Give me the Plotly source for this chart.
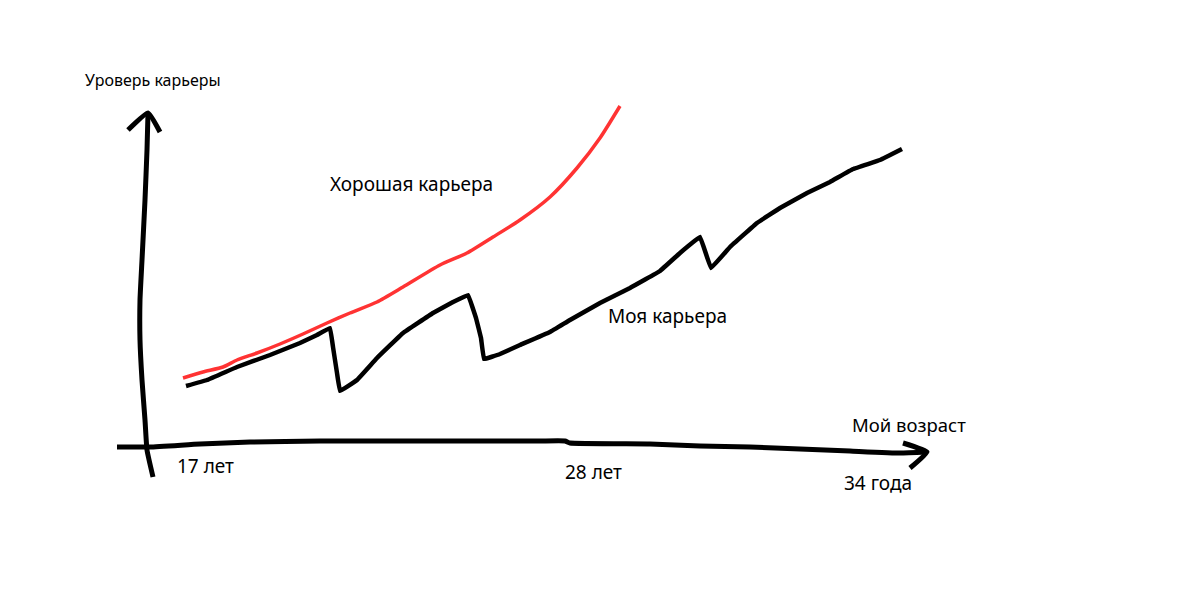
import plotly.graph_objects as go

# Hand-drawn sketch: coordinates (canvas units, y downward)
red_x = [183, 203, 223, 237, 257, 280, 303, 327, 350, 377, 403, 440, 467, 493, 520, 550, 577, 600, 620]
red_y = [378, 372, 367, 360, 353, 344, 334, 323, 313, 302, 287, 265, 253, 237, 220, 197, 168, 138, 106]

blk_x = [186, 207, 237, 270, 300, 317, 330, 333, 337, 340, 357, 377, 403, 433, 453, 468, 476, 481, 484,
         500, 520, 550, 570, 600, 630, 660, 680, 700, 711, 730, 757, 780, 807, 830, 853, 880, 902]
blk_y = [386, 380, 367, 355, 343, 335, 328, 347, 373, 391, 380, 358, 333, 313, 302, 295, 318, 338, 359,
         354, 345, 332, 320, 303, 288, 271, 253, 237, 268, 247, 223, 208, 193, 182, 169, 160, 149]

yax_x = [153, 147, 145, 142, 140, 140, 142, 145, 147, 148]
yax_y = [477, 450, 420, 380, 340, 300, 260, 200, 150, 113]
yarr_x = [128, 148, 160]
yarr_y = [130, 113, 132]

xax_x = [117, 150, 200, 250, 320, 400, 480, 540, 565, 570, 650, 700, 750, 800, 850, 900, 927]
xax_y = [447, 447, 444, 442, 441, 441, 441, 441, 441, 443, 444, 446, 447, 449, 451, 453, 452]
xarr_x = [903, 927, 910]
xarr_y = [443, 452, 468]

labels = ["Уроверь карьеры", "Хорошая карьера", "Моя карьера", "Мой возраст", "17 лет", "28 лет", "34 года"]
label_x = [83, 328, 606, 850, 175, 563, 842]
label_y = [80, 184, 316, 424, 466, 472, 483]
label_size = [16, 19, 19, 18.5, 19, 19, 19]

fig = go.Figure()
for xs, ys in [(yax_x, yax_y), (yarr_x, yarr_y), (xax_x, xax_y), (xarr_x, xarr_y)]:
    fig.add_trace(go.Scatter(x=xs, y=ys, mode="lines", line=dict(color="black", width=5, shape="spline", smoothing=0.4),
                             hoverinfo="skip", showlegend=False))
fig.add_trace(go.Scatter(x=red_x, y=red_y, mode="lines", line=dict(color="#ff3333", width=3.5, shape="spline", smoothing=0.6),
                         showlegend=False))
fig.add_trace(go.Scatter(x=blk_x, y=blk_y, mode="lines", line=dict(color="black", width=4.5, shape="spline", smoothing=0.15),
                         showlegend=False))

for t, x, y, s in zip(labels, label_x, label_y, label_size):
    fig.add_annotation(x=x, y=y, text=t, showarrow=False, xanchor="left", yanchor="middle",
                       font=dict(family="Noto Sans", size=s, color="black"))

# page body has an 8px margin; offset the ranges so canvas units match page pixels
fig.update_layout(
    width=1200, height=603, margin=dict(l=0, r=0, t=0, b=0),
    paper_bgcolor="white", plot_bgcolor="white",
    xaxis=dict(range=[8, 1208], visible=False, fixedrange=True),
    yaxis=dict(range=[611, 8], visible=False, fixedrange=True),
)
fig.write_html("out.html")
